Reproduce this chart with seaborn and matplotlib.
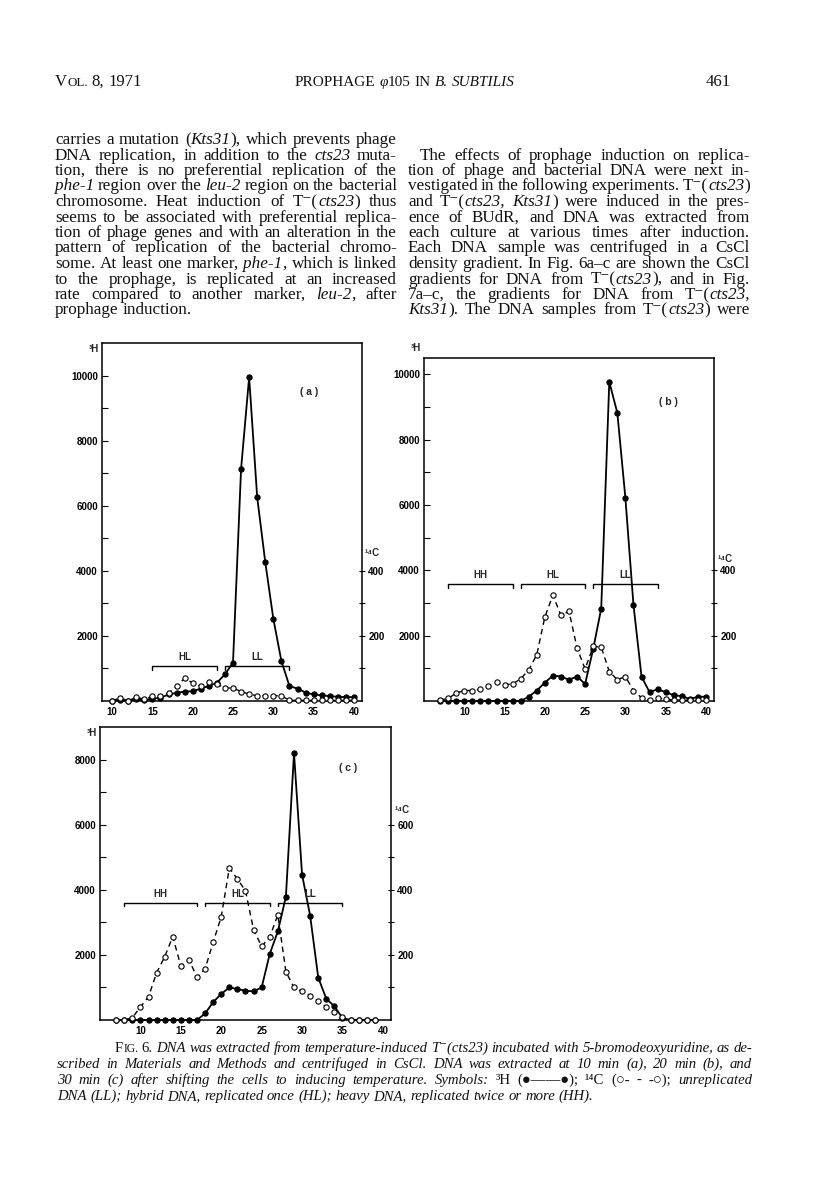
import matplotlib
matplotlib.use("Agg")
import matplotlib.pyplot as plt
import seaborn as sns
from matplotlib.ticker import FixedLocator

sns.set_theme(style="white")
SERIF = ["Liberation Serif", "DejaVu Serif", "DejaVu Sans"]
SANS = ["Liberation Sans", "DejaVu Sans"]
plt.rcParams["font.family"] = SERIF

W, H = 816, 1198

# ---- data (fraction number vs counts) ----
frac_a = list(range(10, 41))
h3_a = [0, 30, 0, 50, 30, 70, 100, 200, 250, 290, 300, 380, 460, 560, 820, 1180,
        7130, 9950, 6260, 4270, 2530, 1230, 460, 380, 260, 200, 175, 150, 130, 120, 120]
c14_a = [0, 10, 0, 12, 5, 15, 16, 25, 45, 70, 55, 45, 58, 52, 40, 40,
         29, 21, 16, 16, 16, 16, 2, 2, 2, 2, 2, 2, 2, 2, 2]

frac_b = list(range(7, 41))
h3_b = [0, 0, 0, 0, 0, 0, 0, 0, 0, 0, 0, 130, 320, 560, 780, 750, 650, 750, 520,
        1590, 2830, 9770, 8820, 6215, 2950, 750, 270, 360, 270, 175, 150, 60, 130, 130]
c14_b = [3, 8, 24, 32, 32, 36, 46, 57, 50, 52, 68, 95, 142, 257, 324, 262, 275, 162, 98,
         167, 165, 90, 65, 75, 32, 10, 3, 9, 6, 3, 3, 3, 3, 3]

frac_c = list(range(7, 40))
h3_c = [0, 0, 0, 0, 0, 0, 0, 0, 0, 0, 0, 200, 550, 800, 1000, 950, 900, 880, 1000,
        2030, 2720, 3790, 8200, 4460, 3200, 1300, 650, 420, 60, 0, 0, 0, 0]
c14_c = [0, 0, 7, 40, 71, 145, 194, 256, 166, 185, 132, 157, 239, 317, 467, 433, 397,
         277, 226, 255, 323, 148, 100, 88, 75, 58, 40, 24, 8, 0, 0, 0, 0]

# density bands (start fraction, end fraction)
bands_a = {"HL": (15, 23), "LL": (24, 32)}
bands_b = {"HH": (8, 16), "HL": (17, 25), "LL": (26, 34)}
bands_c = {"HH": (8, 17), "HL": (18, 26), "LL": (27, 35)}

header_left = "V^OL.^ 8, 1971"
header_mid = "PROPHAGE _φ_105 IN _B. SUBTILIS_"
header_right = "461"

left_col = [
    "carries a mutation (_Kts31_), which prevents phage",
    "DNA replication, in addition to the _cts23_ muta-",
    "tion, there is no preferential replication of the",
    "_phe-1_ region over the _leu-2_ region on the bacterial",
    "chromosome. Heat induction of T⁻(_cts23_) thus",
    "seems to be associated with preferential replica-",
    "tion of phage genes and with an alteration in the",
    "pattern of replication of the bacterial chromo-",
    "some. At least one marker, _phe-1_, which is linked",
    "to the prophage, is replicated at an increased",
    "rate compared to another marker, _leu-2_, after",
    "prophage induction.",
]
right_col = [
    "The effects of prophage induction on replica-",
    "tion of phage and bacterial DNA were next in-",
    "vestigated in the following experiments. T⁻(_cts23_)",
    "and T⁻(_cts23,_ _Kts31_) were induced in the pres-",
    "ence of BUdR, and DNA was extracted from",
    "each culture at various times after induction.",
    "Each DNA sample was centrifuged in a CsCl",
    "density gradient. In Fig. 6a–c are shown the CsCl",
    "gradients for DNA from T⁻(_cts23_), and in Fig.",
    "7a–c, the gradients for DNA from T⁻(_cts23,_",
    "_Kts31_). The DNA samples from T⁻(_cts23_) were",
]
caption = [
    "_F^IG.^ 6._ DNA was extracted from temperature-induced T⁻(cts23) incubated with 5-bromodeoxyuridine, as de-",
    "scribed in Materials and Methods and centrifuged in CsCl. DNA was extracted at 10 min (a), 20 min (b), and",
    "30 min (c) after shifting the cells to inducing temperature. Symbols: _³H (●——●); ¹⁴C (○- - -○);_ unreplicated",
    "DNA (LL); hybrid DNA, replicated once (HL); heavy DNA, replicated twice or more (HH).",
]

fig = plt.figure(figsize=(W / 100, H / 100), dpi=100)
renderer = fig.canvas.get_renderer()


def parse_words(line):
    # "_" toggles italic, "^" toggles small caps size
    words, italic, small = [], False, False
    for raw in line.split(" "):
        segs, buf = [], ""
        for ch in raw:
            if ch in "_^":
                if buf:
                    segs.append((buf, italic, small))
                    buf = ""
                if ch == "_":
                    italic = not italic
                else:
                    small = not small
            else:
                buf += ch
        if buf:
            segs.append((buf, italic, small))
        words.append(segs)
    return words


def make_words(line, size, base_italic):
    items = []
    for segs in parse_words(line):
        parts = []
        for s, it, sm in segs:
            t = fig.text(0, 0, s, fontsize=size * (0.78 if sm else 1.0),
                         fontstyle="italic" if (it ^ base_italic) else "normal",
                         family=SERIF, va="baseline", ha="left", color="#111111")
            parts.append((t, t.get_window_extent(renderer).width))
        items.append(parts)
    return items


def fit_size(lines, widths, size0, min_gap, base_italic=False):
    # largest font size that still leaves min_gap between words on every justified line
    best = 99.0
    for line, avail in zip(lines, widths):
        items = make_words(line, size0, base_italic)
        natural = sum(w for p in items for _, w in p)
        for p in items:
            for t, _ in p:
                t.remove()
        best = min(best, size0 * (avail - (len(items) - 1) * min_gap) / natural)
    return best


def put_line(line, x0, x1, y, size, justify=True, base_italic=False):
    items = make_words(line, size, base_italic)
    widths = [sum(w for _, w in p) for p in items]
    if justify and len(items) > 1:
        gap = (x1 - x0 - sum(widths)) / (len(items) - 1)
    else:
        gap = size * 0.25 * 100 / 72
    x = x0
    for parts in items:
        for t, w in parts:
            t.set_position((x / W, 1 - y / H))
            x += w
        x += gap


# header
put_line(header_left, 55, 0, 86, 12, justify=False)
put_line(header_mid, 295, 0, 86, 11, justify=False)
put_line(header_right, 706, 0, 86, 12, justify=False)

# body text, two justified columns
body_size = fit_size(left_col[:-1] + right_col,
                     [342] * (len(left_col) - 1) + [330] + [342] * (len(right_col) - 1),
                     11, 3.6)
for i, line in enumerate(left_col):
    put_line(line, 55, 397, 144 + 15.5 * i, body_size, justify=i < len(left_col) - 1)
for i, line in enumerate(right_col):
    x0 = 420 if i == 0 else 408
    put_line(line, x0, 750, 159.5 + 15.5 * i, body_size)

# caption
cap_size = fit_size(caption[:-1], [637, 695, 695], 10, 3.4, base_italic=True)
for i, line in enumerate(caption):
    x0 = 115 if i == 0 else 57
    put_line(line, x0, 752, 1052 + 16 * i, cap_size, justify=i < len(caption) - 1, base_italic=True)


def panel(rect, frac, h3, c14, xlim, ytop, xt, yt, ct, bands, band_y, tag, tag_xy, c_lab_y):
    l, r, t, b = rect
    ax = fig.add_axes([l / W, 1 - b / H, (r - l) / W, (b - t) / H])
    sns.lineplot(x=frac, y=h3, ax=ax, color="black", linewidth=1.3, marker="o",
                 markersize=3.8, markerfacecolor="black", markeredgecolor="black",
                 clip_on=False, zorder=3)
    ax.set_xlim(*xlim)
    ax.set_ylim(0, ytop)
    ax.set_xlabel("")
    ax.set_ylabel("")
    for sp in ax.spines.values():
        sp.set_color("black")
        sp.set_linewidth(1.1)

    lab_kw = dict(fontsize=7, fontweight="bold", family=SANS)
    ax.set_xticks(xt, [str(v) for v in xt], **lab_kw)
    ax.yaxis.set_major_locator(FixedLocator(yt))
    ax.set_yticklabels([str(v) if v % 2000 == 0 else "" for v in yt], **lab_kw)
    ax.tick_params(axis="x", direction="in", length=3, width=0.8, pad=4, colors="black")
    ax.tick_params(axis="y", direction="in", length=4, width=0.8, pad=3, colors="black")
    ax.text(-0.012, yt[-1] + 650, "³H", transform=ax.get_yaxis_transform(),
            ha="right", va="bottom", **lab_kw)

    ax2 = ax.twinx()
    sns.lineplot(x=frac, y=c14, ax=ax2, color="black", linewidth=1.0, linestyle=(0, (4, 3)),
                 marker="o", markersize=3.8, markerfacecolor="white", markeredgecolor="black",
                 markeredgewidth=0.8, clip_on=False, zorder=4)
    ax2.set_ylim(0, ytop / 10)
    ax2.set_ylabel("")
    ax2.yaxis.set_major_locator(FixedLocator(ct))
    ax2.set_yticklabels([str(v) if v % 200 == 0 else "" for v in ct], **lab_kw)
    ax2.tick_params(axis="y", direction="inout", length=5, width=0.8, pad=2, colors="black")
    for sp in ax2.spines.values():
        sp.set_visible(False)
    ax2.text(1.012, c_lab_y, "¹⁴C", transform=ax2.get_yaxis_transform(),
             ha="left", va="bottom", **lab_kw)

    d = ytop * 0.012
    for name, (x0, x1) in bands.items():
        ax.plot([x0, x0, x1, x1], [band_y - d, band_y, band_y, band_y - d],
                color="black", linewidth=1.0, zorder=2)
        ax.text((x0 + x1) / 2, band_y + ytop * 0.012, name, ha="center", va="bottom", **lab_kw)
    ax.text(tag_xy[0], tag_xy[1], tag, ha="center", va="center",
            fontsize=7.5, fontweight="bold", family=SANS)
    return ax


panel((102, 362, 343, 701), frac_a, h3_a, c14_a, (8.75, 41), 11000,
      list(range(10, 41, 5)), list(range(1000, 10001, 1000)), [100, 200, 300, 400],
      bands_a, 1080, "( a )", (34.5, 9500), 440)
panel((424, 714, 358, 701), frac_b, h3_b, c14_b, (5, 41), 10500,
      list(range(10, 41, 5)), list(range(1000, 10001, 1000)), [100, 200, 300, 400],
      bands_b, 3570, "( b )", (35.3, 9150), 420)
panel((100, 391, 727, 1020), frac_c, h3_c, c14_c, (5, 41), 9000,
      list(range(10, 41, 5)), list(range(1000, 8001, 1000)), [100, 200, 300, 400, 500, 600],
      bands_c, 3600, "( c )", (35.7, 7750), 630)

fig.savefig("out.png", dpi=100)
